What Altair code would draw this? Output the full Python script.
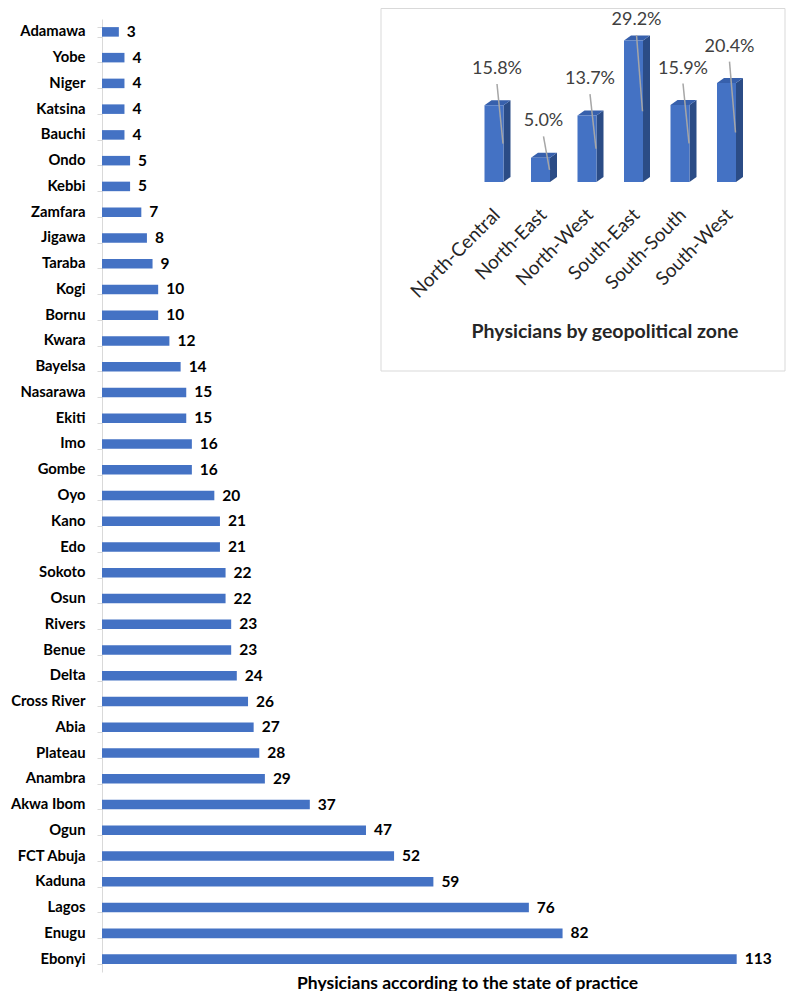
import altair as alt
import pandas as pd

# ---------------- data ----------------
states = ["Adamawa", "Yobe", "Niger", "Katsina", "Bauchi", "Ondo", "Kebbi", "Zamfara",
          "Jigawa", "Taraba", "Kogi", "Bornu", "Kwara", "Bayelsa", "Nasarawa", "Ekiti",
          "Imo", "Gombe", "Oyo", "Kano", "Edo", "Sokoto", "Osun", "Rivers", "Benue",
          "Delta", "Cross River", "Abia", "Plateau", "Anambra", "Akwa Ibom", "Ogun",
          "FCT Abuja", "Kaduna", "Lagos", "Enugu", "Ebonyi"]
counts = [3, 4, 4, 4, 4, 5, 5, 7, 8, 9, 10, 10, 12, 14, 15, 15, 16, 16, 20, 21, 21, 22,
          22, 23, 23, 24, 26, 27, 28, 29, 37, 47, 52, 59, 76, 82, 113]

zones = ["North-Central", "North-East", "North-West", "South-East", "South-South", "South-West"]
zone_pct = [15.8, 5.0, 13.7, 29.2, 15.9, 20.4]

main_title = "Physicians according to the state of practice"
inset_title = "Physicians by geopolitical zone"

# ---------------- styles ----------------
FONT = "Lato"
BLUE = "#4472C4"
SIDE = "#2B4C86"
TOP = "#3760AC"
GRAY = "#D9D9D9"

W, H = 674, 953

# inset scales (pixel ranges inside the plot area)
IX = alt.Scale(domain=[0, 5], range=[392, 624.5], nice=False, zero=False)
IY = alt.Scale(domain=[0, 30], range=[163, 17.5], nice=False, zero=False)
PX_X = 46.5   # pixels per index unit
PX_Y = 4.85   # pixels per percent
HALF = 9.5 / PX_X
DEPX = 7 / PX_X
DEPY = 5 / PX_Y

# ---------------- main chart ----------------
main_df = pd.DataFrame({"state": states, "n": counts})
xscale = alt.Scale(domain=[0, 120], nice=False)

bars = alt.Chart(main_df).mark_bar(color=BLUE).encode(
    x=alt.X("n:Q", scale=xscale,
            axis=alt.Axis(title=main_title, labels=False, ticks=False, domain=False,
                          grid=False, titleFont=FONT, titleFontSize=17.5,
                          titleFontWeight="bold", titleColor="#000", titlePadding=16,
                          titleX=365, titleAlign="center", titleBaseline="alphabetic")),
    y=alt.Y("state:N", sort=states,
            scale=alt.Scale(paddingInner=0.63, paddingOuter=0.315),
            axis=alt.Axis(title=None, tickBand="extent", tickSize=5, tickColor=GRAY,
                          domainColor=GRAY, labelFont=FONT, labelFontSize=14.8,
                          labelFontWeight="bold", labelColor="#000", labelPadding=12,
                          grid=False)),
)
vals = alt.Chart(main_df).mark_text(
    align="left", baseline="middle", dx=8, font=FONT, fontSize=15.5,
    fontWeight="bold", color="#000"
).encode(
    x=alt.X("n:Q", scale=xscale),
    y=alt.Y("state:N", sort=states),
    text="n:Q",
)
main = alt.layer(bars, vals)

# ---------------- inset ----------------
zdf = pd.DataFrame({"zone": zones, "pct": zone_pct})
zdf["i"] = range(len(zones))
zdf["x0"] = zdf["i"] - HALF
zdf["x1"] = zdf["i"] + HALF
zdf["base"] = 0.0
zdf["lab_y"] = (zdf["pct"] + 7.5).clip(upper=33.4)
zdf["lab_x"] = zdf["i"] + 3 / PX_X
zdf["lead_y"] = zdf["lab_y"] - 15 / PX_Y
zdf["lead_x2"] = zdf["i"] + 9 / PX_X
zdf["lead_y2"] = zdf["pct"] / 2
zdf["label"] = [f"{p:.1f}%" for p in zone_pct]
zdf["zl_x"] = zdf["i"] + 3 / PX_X
zdf["zl_y"] = -30 / PX_Y

side_rows, top_rows = [], []
for z, i, p in zip(zones, zdf["i"], zone_pct):
    xr, xl = i + HALF, i - HALF
    side_rows += [{"zone": z, "x": xr, "y": p, "y2": 0.0},
                  {"zone": z, "x": xr + DEPX, "y": p + DEPY, "y2": DEPY}]
    top_rows += [{"zone": z, "x": xl, "y": p, "y2": p},
                 {"zone": z, "x": xl + DEPX, "y": p + DEPY, "y2": p},
                 {"zone": z, "x": xr, "y": p + DEPY, "y2": p},
                 {"zone": z, "x": xr + DEPX, "y": p + DEPY, "y2": p + DEPY}]
side_df = pd.DataFrame(side_rows)
top_df = pd.DataFrame(top_rows)

box_df = pd.DataFrame({"x0": [(279 - 392) / PX_X], "x1": [(683 - 392) / PX_X],
                       "y0": [(163 - 352) / PX_Y], "y1": [(163 + 10.5) / PX_Y]})
box = alt.Chart(box_df).mark_rect(fill="white", stroke=GRAY, strokeWidth=1).encode(
    x=alt.X("x0:Q", scale=IX, axis=None), x2="x1:Q",
    y=alt.Y("y0:Q", scale=IY, axis=None), y2="y1:Q",
)
side = alt.Chart(side_df).mark_area(color=SIDE, opacity=1).encode(
    x=alt.X("x:Q", scale=IX, axis=None),
    y=alt.Y("y:Q", scale=IY, axis=None), y2="y2:Q",
    detail="zone:N",
)
top = alt.Chart(top_df).mark_area(color=TOP, opacity=1).encode(
    x=alt.X("x:Q", scale=IX, axis=None),
    y=alt.Y("y:Q", scale=IY, axis=None), y2="y2:Q",
    detail="zone:N",
)
front = alt.Chart(zdf).mark_rect(color=BLUE).encode(
    x=alt.X("x0:Q", scale=IX, axis=None), x2="x1:Q",
    y=alt.Y("base:Q", scale=IY, axis=None), y2="pct:Q",
)
leaders = alt.Chart(zdf).mark_rule(color="#A6A6A6", strokeWidth=1.5).encode(
    x=alt.X("lab_x:Q", scale=IX, axis=None), x2="lead_x2:Q",
    y=alt.Y("lead_y:Q", scale=IY, axis=None), y2="lead_y2:Q",
)
pct_labels = alt.Chart(zdf).mark_text(
    font=FONT, fontSize=18, color="#404040", align="center", baseline="middle"
).encode(
    x=alt.X("lab_x:Q", scale=IX, axis=None),
    y=alt.Y("lab_y:Q", scale=IY, axis=None),
    text="label:N",
)
zone_labels = alt.Chart(zdf).mark_text(
    font=FONT, fontSize=19, color="#262626", align="right", baseline="middle", angle=315
).encode(
    x=alt.X("zl_x:Q", scale=IX, axis=None),
    y=alt.Y("zl_y:Q", scale=IY, axis=None),
    text="zone:N",
)
title_df = pd.DataFrame({"t": [inset_title], "x": [(503 - 392) / PX_X],
                         "y": [(163 - 313) / PX_Y]})
inset_title_mark = alt.Chart(title_df).mark_text(
    font=FONT, fontSize=19.5, fontWeight="bold", color="#262626",
    align="center", baseline="middle"
).encode(
    x=alt.X("x:Q", scale=IX, axis=None),
    y=alt.Y("y:Q", scale=IY, axis=None),
    text="t:N",
)
inset = alt.layer(box, side, top, front, leaders, pct_labels, zone_labels, inset_title_mark)

chart = alt.layer(main, inset).resolve_scale(
    x="independent", y="independent"
).properties(
    width=W, height=H,
    autosize=alt.AutoSizeParams(type="none"),
    padding={"left": 94, "top": 11, "right": 13, "bottom": 19},
).configure_view(stroke=None)

chart.save("out.html", embed_options={"renderer": "svg", "actions": False})
